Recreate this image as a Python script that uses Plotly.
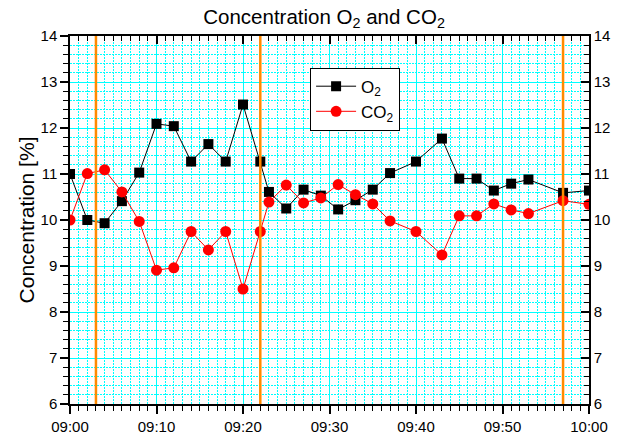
import plotly.graph_objects as go

# Sampling times (hh:mm) and measured concentrations in percent
times = ["09:00", "09:02", "09:04", "09:06", "09:08", "09:10", "09:12", "09:14",
         "09:16", "09:18", "09:20", "09:22", "09:23", "09:25", "09:27", "09:29",
         "09:31", "09:33", "09:35", "09:37", "09:40", "09:43", "09:45", "09:47",
         "09:49", "09:51", "09:53", "09:57", "10:00"]
o2 = [11.0, 10.0, 9.93, 10.41, 11.03, 12.09, 12.04, 11.27, 11.65, 11.27, 12.51,
      11.27, 10.61, 10.25, 10.66, 10.53, 10.23, 10.43, 10.66, 11.02, 11.27, 11.77,
      10.90, 10.90, 10.64, 10.79, 10.88, 10.59, 10.64]
co2 = [10.0, 11.01, 11.09, 10.61, 9.97, 8.91, 8.96, 9.75, 9.35, 9.75, 8.50, 9.75,
       10.39, 10.76, 10.37, 10.48, 10.77, 10.55, 10.35, 9.98, 9.75, 9.24, 10.09,
       10.09, 10.35, 10.22, 10.14, 10.42, 10.34]

# Event markers drawn as vertical lines
event_times = ["09:03", "09:22", "09:57"]

day = "2000-01-01 "
x = [day + t for t in times]
x_range = [day + "09:00", day + "10:00"]

FONT = "Liberation Sans, Arial, sans-serif"
GRID = "#00FFFF"
MINOR_DASH = "2px,1px"

fig = go.Figure()
fig.add_trace(go.Scatter(
    x=x, y=o2, name="O<sub>2</sub>", mode="lines+markers",
    line=dict(color="black", width=1),
    marker=dict(symbol="square", size=10, color="black"),
))
fig.add_trace(go.Scatter(
    x=x, y=co2, name="CO<sub>2</sub>", mode="lines+markers",
    line=dict(color="red", width=1),
    marker=dict(symbol="circle", size=11, color="red"),
))
# Carrier trace for the mirrored top/right axes
fig.add_trace(go.Scatter(
    x=[x[0]], y=[None], xaxis="x2", yaxis="y2", mode="lines",
    showlegend=False, hoverinfo="skip",
))

for t in event_times:
    fig.add_shape(type="line", xref="x", yref="paper",
                  x0=day + t, x1=day + t, y0=0, y1=1,
                  line=dict(color="#FF8A00", width=2.5), layer="above")

tickfont = dict(family=FONT, size=15, color="black")

fig.update_layout(
    width=622, height=447,
    margin=dict(l=70, r=31, t=36, b=26),
    paper_bgcolor="white", plot_bgcolor="white",
    font=dict(family=FONT, color="black"),
    title=dict(text="Concentration O<sub>2</sub> and CO<sub>2</sub>",
               x=0.521, xanchor="center", y=0.963, yanchor="middle",
               font=dict(family=FONT, size=20.5, color="black")),
    showlegend=True,
    legend=dict(x=0.4626, y=0.914, xanchor="left", yanchor="top",
                bgcolor="white", bordercolor="black", borderwidth=1,
                font=dict(family=FONT, size=17, color="black"),
                itemwidth=40),
    xaxis=dict(
        type="date", range=x_range, tickformat="%H:%M", dtick=600000,
        tick0=day + "09:00",
        showgrid=True, gridcolor=GRID, gridwidth=1,
        showline=True, linecolor="black", linewidth=1.5,
        ticks="outside", ticklen=8, tickwidth=1.5, tickcolor="black",
        tickfont=tickfont, zeroline=False,
        minor=dict(dtick=60000, showgrid=True, gridcolor=GRID, griddash=MINOR_DASH,
                   gridwidth=1, ticks="outside", ticklen=5, tickwidth=1,
                   tickcolor="black"),
    ),
    yaxis=dict(
        range=[6, 14], dtick=1, tick0=6,
        showgrid=True, gridcolor=GRID, gridwidth=1,
        showline=True, linecolor="black", linewidth=1.5,
        ticks="outside", ticklen=8, tickwidth=1.5, tickcolor="black",
        tickfont=tickfont, zeroline=False,
        title=dict(text="Concentration [%]",
                   font=dict(family=FONT, size=21, color="black"), standoff=0),
        minor=dict(dtick=0.2, showgrid=True, gridcolor=GRID, griddash=MINOR_DASH,
                   gridwidth=1, ticks="outside", ticklen=5, tickwidth=1,
                   tickcolor="black"),
    ),
    xaxis2=dict(
        type="date", range=x_range, overlaying="x", side="top",
        dtick=600000, tick0=day + "09:00", showticklabels=False,
        showgrid=False, zeroline=False,
        showline=True, linecolor="black", linewidth=1.5,
        ticks="inside", ticklen=8, tickwidth=1.5, tickcolor="black",
        minor=dict(dtick=60000, ticks="inside", ticklen=5, tickwidth=1,
                   tickcolor="black", showgrid=False),
    ),
    yaxis2=dict(
        range=[6, 14], overlaying="y", side="right", dtick=1, tick0=6,
        showgrid=False, zeroline=False,
        showline=True, linecolor="black", linewidth=1.5,
        ticks="inside", ticklen=8, tickwidth=1.5, tickcolor="black",
        tickfont=tickfont,
        minor=dict(dtick=0.2, ticks="inside", ticklen=5, tickwidth=1,
                   tickcolor="black", showgrid=False),
    ),
)

fig.write_html("out.html")
